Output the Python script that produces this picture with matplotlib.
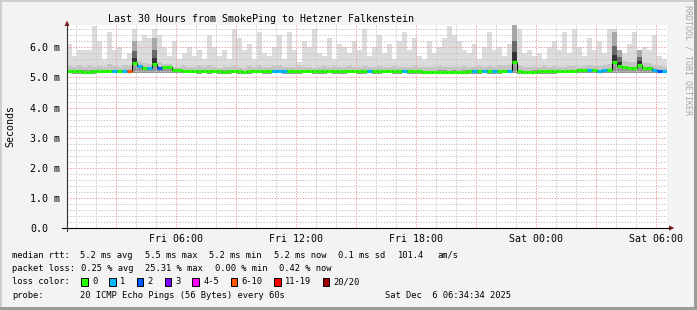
import numpy as np
import matplotlib
matplotlib.use('Agg')
import matplotlib.pyplot as plt
from matplotlib.patches import Polygon, Rectangle
from matplotlib.lines import Line2D

# ---------------- data (15-minute bins, hours since Fri 00:34) ----------------
median_rtt = [
    5.21, 5.21, 5.20, 5.19, 5.19, 5.20, 5.21, 5.22,
    5.22, 5.22, 5.21, 5.21, 5.21, 5.47, 5.38, 5.32,
    5.30, 5.44, 5.32, 5.33, 5.33, 5.24, 5.23, 5.22,
    5.22, 5.22, 5.21, 5.22, 5.21, 5.22, 5.21, 5.19,
    5.21, 5.22, 5.20, 5.18, 5.21, 5.22, 5.22, 5.21,
    5.21, 5.22, 5.22, 5.21, 5.20, 5.21, 5.21, 5.22,
    5.22, 5.21, 5.20, 5.21, 5.22, 5.21, 5.20, 5.21,
    5.22, 5.22, 5.21, 5.21, 5.22, 5.21, 5.21, 5.22,
    5.22, 5.21, 5.20, 5.22, 5.21, 5.21, 5.20, 5.17,
    5.17, 5.18, 5.19, 5.19, 5.18, 5.19, 5.18, 5.19,
    5.20, 5.21, 5.21, 5.22, 5.21, 5.21, 5.21, 5.22,
    5.22, 5.52, 5.21, 5.18, 5.18, 5.19, 5.20, 5.20,
    5.21, 5.21, 5.22, 5.22, 5.22, 5.22, 5.23, 5.23,
    5.23, 5.23, 5.22, 5.23, 5.23, 5.50, 5.38, 5.33,
    5.31, 5.30, 5.41, 5.31, 5.31, 5.23, 5.22, 5.22,
]
loss_class = [
    0, 0, 0, 0, 0, 0, 0, 0,
    0, 1, 0, 1, 5, 0, 1, 0,
    1, 0, 2, 0, 0, 0, 0, 0,
    0, 0, 0, 0, 0, 0, 0, 0,
    0, 0, 0, 0, 0, 0, 0, 0,
    0, 1, 1, 1, 0, 0, 0, 0,
    0, 0, 0, 0, 0, 0, 0, 0,
    0, 0, 0, 0, 1, 0, 0, 0,
    0, 0, 0, 1, 0, 0, 0, 0,
    0, 0, 0, 0, 0, 0, 0, 0,
    0, 1, 0, 1, 0, 1, 0, 0,
    1, 0, 0, 0, 0, 0, 0, 0,
    0, 0, 0, 0, 0, 0, 0, 0,
    1, 0, 1, 1, 0, 0, 0, 0,
    0, 0, 0, 0, 0, 1, 2, 1,
]
smoke_max = [
    6.10, 5.70, 5.90, 5.90,  5.90, 6.70, 6.20, 5.60,
    6.50, 5.90, 6.00, 5.60,  5.80, 6.60, 6.20, 6.40,
    6.30, 6.60, 6.40, 6.00,  5.70, 6.20, 5.60, 5.80,
    6.00, 5.70, 5.90, 5.60,  6.40, 6.00, 5.70, 5.90,
    5.60, 6.60, 6.30, 5.90,  6.10, 5.60, 6.50, 5.80,
    5.70, 6.00, 6.40, 5.60,  6.50, 5.90, 5.50, 6.20,
    6.00, 6.60, 5.80, 5.70,  6.30, 5.60, 6.10, 6.00,
    5.80, 6.20, 5.90, 6.60,  5.70, 6.00, 6.40, 5.80,
    6.10, 5.60, 6.20, 6.50,  5.90, 6.30, 5.70, 5.60,
    6.20, 5.80, 6.00, 6.30,  6.70, 6.40, 6.20, 5.90,
    5.80, 6.10, 5.60, 6.00,  6.50, 5.90, 6.00, 5.70,
    6.10, 6.75, 6.60, 5.80,  5.90, 5.70, 5.80, 5.60,
    6.00, 6.20, 5.90, 6.50,  5.80, 6.60, 6.00, 5.70,
    6.30, 5.90, 6.20, 5.80,  6.60, 6.60, 5.90, 5.80,
    6.10, 6.50, 5.80, 6.00,  5.90, 6.40, 5.70, 5.60,
]
smoke_hi = [
    5.38, 5.34, 5.40, 5.36,  5.42, 5.35, 5.37, 5.33,
    5.45, 5.38, 5.36, 5.40,  5.39, 5.70, 5.55, 5.48,
    5.45, 5.75, 5.50, 5.46,  5.44, 5.36, 5.34, 5.38,
    5.35, 5.33, 5.37, 5.34,  5.40, 5.36, 5.32, 5.35,
    5.33, 5.38, 5.36, 5.31,  5.37, 5.34, 5.40, 5.35,
    5.34, 5.38, 5.42, 5.36,  5.33, 5.35, 5.39, 5.34,
    5.36, 5.32, 5.35, 5.38,  5.34, 5.37, 5.33, 5.36,
    5.38, 5.35, 5.34, 5.39,  5.36, 5.33, 5.37, 5.35,
    5.34, 5.38, 5.36, 5.33,  5.35, 5.37, 5.34, 5.36,
    5.33, 5.35, 5.38, 5.34,  5.36, 5.33, 5.35, 5.37,
    5.34, 5.36, 5.39, 5.35,  5.37, 5.34, 5.40, 5.38,
    5.40, 5.90, 5.38, 5.34,  5.36, 5.33, 5.35, 5.37,
    5.34, 5.38, 5.36, 5.35,  5.39, 5.37, 5.36, 5.38,
    5.40, 5.37, 5.39, 5.42,  5.45, 5.80, 5.65, 5.55,
    5.52, 5.50, 5.62, 5.50,  5.48, 5.40, 5.38, 5.36,
]
smoke_lo = [
    5.13, 5.12, 5.12, 5.11,  5.11, 5.12, 5.13, 5.13,
    5.13, 5.14, 5.13, 5.13,  5.13, 5.15, 5.16, 5.15,
    5.15, 5.16, 5.15, 5.16,  5.15, 5.14, 5.14, 5.13,
    5.13, 5.13, 5.12, 5.13,  5.12, 5.13, 5.12, 5.11,
    5.12, 5.13, 5.12, 5.10,  5.12, 5.13, 5.13, 5.12,
    5.12, 5.13, 5.13, 5.12,  5.12, 5.12, 5.12, 5.13,
    5.13, 5.12, 5.12, 5.12,  5.13, 5.12, 5.12, 5.12,
    5.13, 5.13, 5.12, 5.12,  5.13, 5.12, 5.12, 5.13,
    5.13, 5.12, 5.12, 5.13,  5.12, 5.12, 5.12, 5.10,
    5.10, 5.10, 5.11, 5.11,  5.10, 5.11, 5.10, 5.11,
    5.12, 5.12, 5.12, 5.13,  5.12, 5.12, 5.12, 5.13,
    5.13, 5.15, 5.12, 5.10,  5.10, 5.11, 5.12, 5.12,
    5.12, 5.12, 5.13, 5.13,  5.13, 5.13, 5.14, 5.14,
    5.14, 5.14, 5.13, 5.14,  5.14, 5.16, 5.16, 5.15,
    5.15, 5.15, 5.16, 5.15,  5.15, 5.14, 5.13, 5.13,
]
spike_bins = [13, 17, 89, 109, 110, 114]
spike_tops = [6.20, 6.30, 6.75, 6.50, 5.90, 5.90]

loss_labels = ['0', '1', '2', '3', '4-5', '6-10', '11-19', '20/20']
loss_colors = ['#26ff00', '#00b8ff', '#0059ff', '#7e00ff', '#ff00ff',
               '#ff5500', '#ff0000', '#a10000']

tick_hours = [5.433, 11.433, 17.433, 23.433, 29.433]
tick_labels = ['Fri 06:00', 'Fri 12:00', 'Fri 18:00', 'Sat 00:00', 'Sat 06:00']
ytick_vals = [0, 1, 2, 3, 4, 5, 6]
ytick_labels = ['0.0', '1.0 m', '2.0 m', '3.0 m', '4.0 m', '5.0 m', '6.0 m']

title = 'Last 30 Hours from SmokePing to Hetzner Falkenstein'
legend_rows = [
    [(12, 'median rtt:'), (80.3, '5.2 ms avg'), (144.7, '5.5 ms max'),
     (209.3, '5.2 ms min'), (274, '5.2 ms now'), (338.3, '0.1 ms sd'),
     (397.7, '101.4'), (437.7, 'am/s')],
    [(12, 'packet loss:'), (80.7, '0.25 % avg'), (145, '25.31 % max'),
     (215, '0.00 % min'), (279.3, '0.42 % now')],
    [(12, 'loss color:')],
    [(12, 'probe:'), (80.3, '20 ICMP Echo Pings (56 Bytes) every 60s'),
     (385, 'Sat Dec  6 06:34:34 2025')],
]
legend_y = [255, 268.5, 282, 296]
box_x = [81.3, 109, 136.7, 164.7, 192.3, 230.7, 274, 322.7]

# ---------------- figure ----------------
W, H = 697, 310
MONO = 'DejaVu Sans Mono'
fig = plt.figure(figsize=(W / 100, H / 100), dpi=100, facecolor='#f3f3f3')


def fx(x):
    return x / W


def fy(y):
    return 1 - y / H


ax = fig.add_axes([fx(67), fy(228), 600 / W, (228 - 25) / H])
ax.set_facecolor('white')
ax.set_xlim(0, 30)
ax.set_ylim(0, 6.74)
for s in ax.spines.values():
    s.set_visible(False)

med = np.array(median_rtt)
n = len(med)
hours = np.arange(n) * 0.25
width = 0.25
mx = np.array(smoke_max)
hi = np.array(smoke_hi)
lo = np.array(smoke_lo)

# smoke
ax.bar(hours, mx - lo, bottom=lo, width=width, align='edge', color='#dcdcdc', lw=0, zorder=1)
ax.bar(hours, hi - lo, bottom=lo, width=width, align='edge', color='#c4c4c4', lw=0, zorder=2)
ax.bar(hours, med + 0.04 - lo, bottom=lo, width=width, align='edge', color='#969696', lw=0, zorder=3)
sb = np.array(spike_bins)
st = np.array(spike_tops)
sh = hours[sb]
sm = med[sb]
ax.bar(sh, st - sm, bottom=sm, width=width, align='edge', color='#a8a8a8', lw=0, zorder=4.5)
ax.bar(sh, (st - sm) * 0.55, bottom=sm, width=width, align='edge', color='#6a6a6a', lw=0, zorder=4.5)
ax.bar(sh, (st - sm) * 0.25, bottom=sm, width=width, align='edge', color='#333333', lw=0, zorder=4.5)

# grid
dash = dict(linestyle=(0, (1.4, 1.4)), lw=0.72)
for v in np.arange(1, 34) * 0.2:
    if abs(v - round(v)) < 1e-6:
        ax.axhline(v, color='#f2a0a0', zorder=4, **dash)
    else:
        ax.axhline(v, color='#c8c8c8', zorder=4, **dash)
for k in range(30):
    h = 0.433 + k
    if k % 3 == 2:
        ax.axvline(h, color='#f2a0a0', zorder=4, **dash)
    else:
        ax.axvline(h, color='#c8c8c8', zorder=4, **dash)

# median line
edges = np.append(hours, hours[-1] + width)
ax.step(edges, np.append(med, med[-1]), where='post', color='black', lw=0.8, zorder=5)
ax.hlines(med, hours, hours + width, colors=[loss_colors[c] for c in loss_class],
          lw=2.3, zorder=6, capstyle='butt')

# ticks
ax.set_xticks(tick_hours)
ax.set_xticklabels(tick_labels, family=MONO, fontsize=7.2)
ax.tick_params(axis='x', length=0, pad=4.5)
ax.set_yticks([])
for v, lab in zip(ytick_vals, ytick_labels):
    fig.text(fx(30), fy(228 - v * 30.12), lab, family=MONO, fontsize=7.2,
             ha='left', va='center_baseline')

fig.text(fx(10), fy(126), 'Seconds', family=MONO, fontsize=7.2, rotation=90,
         ha='center', va='center')
fig.text(fx(260.5), fy(19.5), title, family=MONO, fontsize=7.2, ha='center', va='center')
fig.text(fx(688), fy(60), 'RRDTOOL / TOBI OETIKER', family=MONO, fontsize=6.0,
         rotation=270, ha='center', va='center', color='#a8a8a8')

# axis lines & arrows
fig.add_artist(Line2D([fx(62), fx(670)], [fy(228), fy(228)], color='black', lw=0.8))
fig.add_artist(Line2D([fx(67), fx(67)], [fy(231), fy(24)], color='#333333', lw=0.8))
fig.add_artist(Polygon([[fx(669), fy(225.5)], [fx(674.5), fy(228)], [fx(669), fy(230.5)]],
                       closed=True, color='#8b1a1a', lw=0))
fig.add_artist(Polygon([[fx(64.5), fy(26)], [fx(67), fy(20.5)], [fx(69.5), fy(26)]],
                       closed=True, color='#8b1a1a', lw=0))

# legend
for row, y in zip(legend_rows, legend_y):
    for x, s in row:
        fig.text(fx(x), fy(y), s, family=MONO, fontsize=6.3, ha='left', va='center')
for bx, col, lab in zip(box_x, loss_colors, loss_labels):
    fig.add_artist(Rectangle((fx(bx), fy(286)), 6.5 / W, 8 / H, facecolor=col,
                             edgecolor='black', lw=0.7))
    fig.text(fx(bx + 11), fy(282), lab, family=MONO, fontsize=6.3, ha='left', va='center')

# border
fig.add_artist(Rectangle((0, fy(2)), 1, 2 / H, color='#cfcfcf', lw=0))
fig.add_artist(Rectangle((0, 0), 2 / W, 1, color='#cfcfcf', lw=0))
fig.add_artist(Rectangle((0, 0), 1, 3 / H, color='#9c9c9c', lw=0))
fig.add_artist(Rectangle((fx(694), 0), 3 / W, 1, color='#9c9c9c', lw=0))

fig.savefig('out.png', dpi=100, facecolor=fig.get_facecolor())
